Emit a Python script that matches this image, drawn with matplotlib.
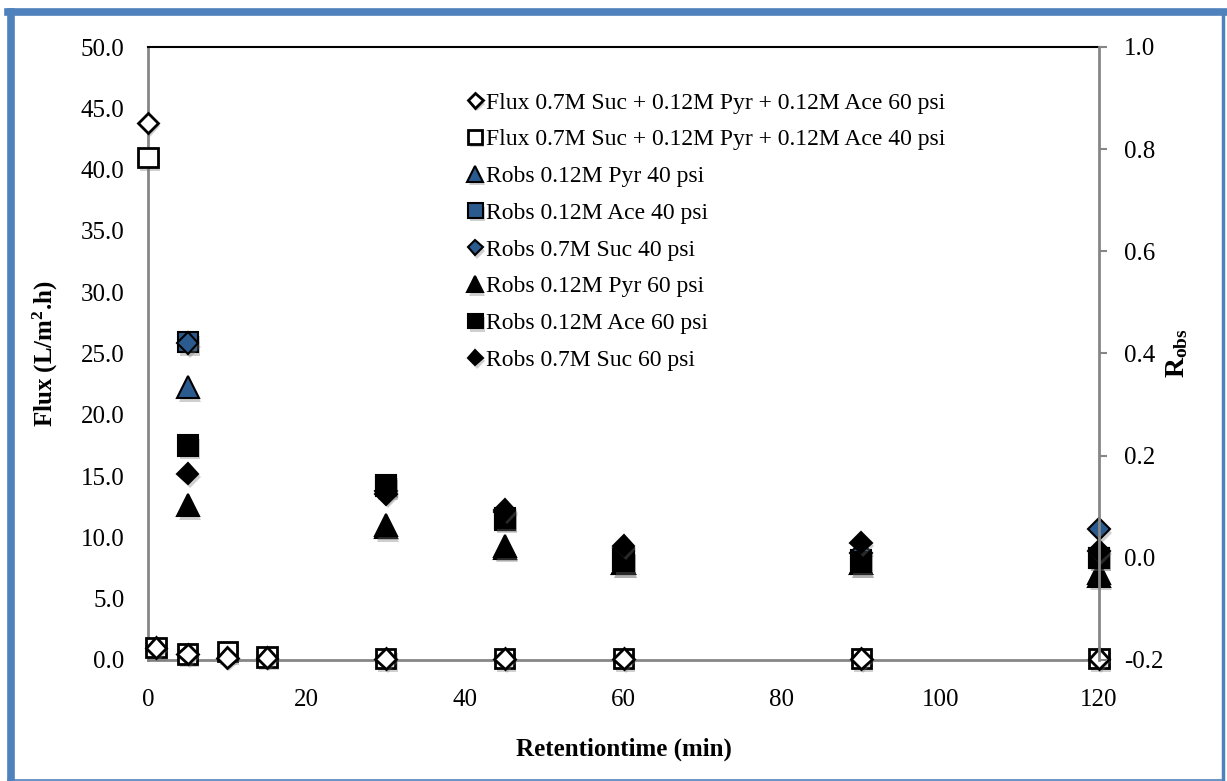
import matplotlib
matplotlib.use("Agg")
import matplotlib.pyplot as plt
import matplotlib.patheffects as pe
from matplotlib.lines import Line2D

plt.rcParams['font.family'] = ['Liberation Serif', 'DejaVu Serif']
plt.rcParams['mathtext.fontset'] = 'custom'
plt.rcParams['mathtext.rm'] = 'Liberation Serif'
plt.rcParams['mathtext.bf'] = 'Liberation Serif:bold'
plt.rcParams['mathtext.it'] = 'Liberation Serif:italic'

# flux data (left axis)
time_flux = [0, 1, 5, 10, 15, 30, 45, 60, 90, 120]
flux_60 = [43.8, 1.0, 0.5, 0.2, 0.2, 0.1, 0.1, 0.1, 0.1, 0.1]
flux_40 = [41.0, 1.0, 0.5, 0.7, 0.25, 0.1, 0.1, 0.1, 0.1, 0.1]

# observed rejection (right axis)
time_robs = [5, 30, 45, 60, 90, 120]
pyr_40 = [0.334, 0.06, 0.02, -0.01, -0.01, -0.03]
ace_40 = [0.422, 0.14, 0.075, -0.005, -0.005, 0.0]
suc_40 = [0.42, 0.13, 0.09, 0.02, 0.01, 0.056]
pyr_60 = [0.103, 0.064, 0.023, -0.01, -0.01, -0.035]
ace_60 = [0.22, 0.143, 0.078, -0.007, -0.008, 0.0]
suc_60 = [0.165, 0.125, 0.094, 0.024, 0.03, 0.014]

labels = ["Flux 0.7M Suc + 0.12M Pyr + 0.12M Ace 60 psi",
          "Flux 0.7M Suc + 0.12M Pyr + 0.12M Ace 40 psi",
          "Robs 0.12M Pyr 40 psi",
          "Robs 0.12M Ace 40 psi",
          "Robs 0.7M Suc 40 psi",
          "Robs 0.12M Pyr 60 psi",
          "Robs 0.12M Ace 60 psi",
          "Robs 0.7M Suc 60 psi"]

blue = '#2B5A8E'
gray = '#868686'
shadow = [pe.SimplePatchShadow(offset=(1.5, -2.5), shadow_rgbFace='#777777', alpha=0.35), pe.Normal()]

fig = plt.figure(figsize=(12.27, 7.81), dpi=100)
ax = fig.add_axes([148 / 1227, 1 - 660 / 781, 951 / 1227, 613 / 781])
ax2 = ax.twinx()

# flux markers
h2, = ax.plot(time_flux, flux_40, ls='none', marker='s', ms=14, mfc='white', mec='black', mew=2,
              path_effects=shadow, clip_on=False, zorder=3)
h1, = ax.plot(time_flux, flux_60, ls='none', marker='D', ms=10.5, mfc='white', mec='black', mew=2,
              path_effects=shadow, clip_on=False, zorder=4)

# rejection markers, 40 psi first then 60 psi on top
h3, = ax2.plot(time_robs, pyr_40, ls='none', marker='^', ms=16, mfc=blue, mec='black', mew=1.5,
               path_effects=shadow, clip_on=False)
h4, = ax2.plot(time_robs, ace_40, ls='none', marker='s', ms=14.5, mfc=blue, mec='black', mew=1.5,
               path_effects=shadow, clip_on=False)
h5, = ax2.plot(time_robs, suc_40, ls='none', marker='D', ms=11, mfc=blue, mec='black', mew=1.5,
               path_effects=shadow, clip_on=False)
h6, = ax2.plot(time_robs, pyr_60, ls='none', marker='^', ms=16, mfc='black', mec='black', mew=1.5,
               path_effects=shadow, clip_on=False)
h7, = ax2.plot(time_robs, ace_60, ls='none', marker='s', ms=14.5, mfc='black', mec='black', mew=1.5,
               path_effects=shadow, clip_on=False)
h8, = ax2.plot(time_robs, suc_60, ls='none', marker='D', ms=11, mfc='black', mec='black', mew=1.5,
               path_effects=shadow, clip_on=False)

ax.set_xlim(0, 120)
ax.set_ylim(0, 50)
ax2.set_ylim(-0.2, 1.0)
ax.set_xticks(range(0, 121, 20))
ax.set_yticks([i * 5 for i in range(11)])
ax.set_yticklabels(['%.1f' % (i * 5) for i in range(11)])
ax2.set_yticks([-0.2 + 0.2 * i for i in range(7)])
ax2.set_yticklabels(['%.1f' % (-0.2 + 0.2 * i) for i in range(7)])

ax.tick_params(axis='x', length=0, pad=21, labelsize=18)
ax.tick_params(axis='y', length=0, pad=17, labelsize=18)
ax2.tick_params(axis='y', length=6, width=1.5, color=gray, direction='out', pad=12, labelsize=18)

for s in ['left', 'bottom']:
    ax.spines[s].set_color(gray)
    ax.spines[s].set_linewidth(2)
ax.spines['top'].set_color('black')
ax.spines['top'].set_linewidth(1.5)
ax.spines['right'].set_visible(False)
for s in ['left', 'bottom', 'top']:
    ax2.spines[s].set_visible(False)
ax2.spines['right'].set_color(gray)
ax2.spines['right'].set_linewidth(2)

ax.set_xlabel('Retentiontime (min)', fontsize=18, fontweight='bold')
ax.xaxis.set_label_coords(0.5, -0.126)
ax.set_ylabel(r'Flux (L/m$^\mathbf{2}$.h)', fontsize=18, fontweight='bold')
ax.yaxis.set_label_coords(-0.0925, 0.5)
ax2.set_ylabel(r'$\mathbf{R_{obs}}$', fontsize=20)
ax2.yaxis.set_label_coords(1.069, 0.5)

fig.legend([h1, h2, h3, h4, h5, h6, h7, h8], labels, loc='upper left',
           bbox_to_anchor=(468 / 1227, 1 - 92 / 781), frameon=False, fontsize=17,
           markerscale=0.72, handlelength=0.62, handletextpad=0.15, labelspacing=0.645,
           borderpad=0, borderaxespad=0)

# blue frame around the chart
frame = '#4F81BD'
fig.add_artist(Line2D([11 / 1227, 11 / 1227], [1 - 12 / 781, 1 - 780 / 781], color=frame, lw=5.5, transform=fig.transFigure))
fig.add_artist(Line2D([8 / 1227, 1224 / 1227], [1 - 12 / 781, 1 - 12 / 781], color=frame, lw=5.5, transform=fig.transFigure))
fig.add_artist(Line2D([1223 / 1227, 1223 / 1227], [1 - 12 / 781, 1 - 780 / 781], color=frame, lw=2.5, transform=fig.transFigure))
fig.add_artist(Line2D([8 / 1227, 1224 / 1227], [1 - 780 / 781, 1 - 780 / 781], color=frame, lw=1.2, transform=fig.transFigure))

fig.savefig('out.png', dpi=100)
